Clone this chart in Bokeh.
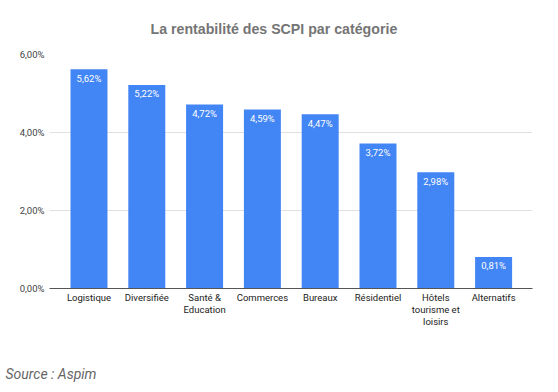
from bokeh.plotting import figure
from bokeh.models import Range1d, FixedTicker, LabelSet, ColumnDataSource, Title
from bokeh.core.properties import value
from bokeh.embed import file_html
from bokeh.resources import INLINE

categories = ["Logistique", "Diversifiée", "Santé &\nEducation", "Commerces", "Bureaux",
              "Résidentiel", "Hôtels\ntourisme et\nloisirs", "Alternatifs"]
values = [5.62, 5.22, 4.72, 4.59, 4.47, 3.72, 2.98, 0.81]
y_ticks = [0, 2, 4, 6]
y_tick_labels = ["0,00%", "2,00%", "4,00%", "6,00%"]
title_text = "La rentabilité des SCPI par catégorie"
source_text = "Source : Aspim"

xs = list(range(len(categories)))
labels = [f"{v:.2f}%".replace(".", ",") for v in values]
src = ColumnDataSource(dict(x=xs, top=values, lab=labels))

p = figure(width=550, height=392, output_backend="svg", toolbar_location=None,
           x_range=Range1d(-0.683, 7.673), y_range=Range1d(0, 6),
           min_border_left=49, min_border_right=18, min_border_top=54, min_border_bottom=104)
p.outline_line_color = None
p.background_fill_color = "white"
p.border_fill_color = "white"

p.vbar(x="x", top="top", width=0.64, bottom=0, source=src, fill_color="#4285F4", line_color=None)

p.add_layout(LabelSet(x="x", y="top", text="lab", source=src, y_offset=-9,
                      text_align="center", text_baseline="middle", text_color="white",
                      text_font_size=value("9.5px"), text_font=value("Roboto")))

# axes
p.xaxis.ticker = FixedTicker(ticks=xs)
p.xaxis.major_label_overrides = {i: c for i, c in enumerate(categories)}
p.xaxis.major_tick_line_color = None
p.xaxis.major_tick_out = 0
p.xaxis.major_tick_in = 0
p.xaxis.minor_tick_line_color = None
p.xaxis.axis_line_color = "#555555"
p.xaxis.axis_line_width = 1
p.xaxis.major_label_text_font = "Roboto"
p.xaxis.major_label_text_font_size = "9.5px"
p.xaxis.major_label_text_color = "#222222"
p.xaxis.major_label_standoff = 3
p.xaxis.major_label_text_line_height = 1.1

p.yaxis.ticker = FixedTicker(ticks=y_ticks)
p.yaxis.major_label_overrides = {t: l for t, l in zip(y_ticks, y_tick_labels)}
p.yaxis.major_tick_line_color = None
p.yaxis.major_tick_out = 0
p.yaxis.major_tick_in = 0
p.yaxis.minor_tick_line_color = None
p.yaxis.axis_line_color = None
p.yaxis.major_label_text_font = "Roboto"
p.yaxis.major_label_text_font_size = "9.5px"
p.yaxis.major_label_text_color = "#444444"
p.yaxis.major_label_standoff = 5

p.xgrid.grid_line_color = None
p.ygrid.ticker = FixedTicker(ticks=y_ticks)
p.ygrid.grid_line_color = "#e0e0e0"

p.add_layout(Title(text=title_text, align="left", offset=101, standoff=35,
                   text_font="Liberation Sans", text_font_style="bold", text_font_size="14.2px",
                   text_color="#757575"), "above")
# spacer between axis labels and the source note
p.add_layout(Title(text=" ", standoff=14, text_font_size="10px"), "below")
p.add_layout(Title(text=source_text, align="left", offset=-44, standoff=14,
                   text_font="Roboto", text_font_style="italic", text_font_size="14px",
                   text_color="#666666"), "below")

open("out.html", "w").write(file_html(p, INLINE))
